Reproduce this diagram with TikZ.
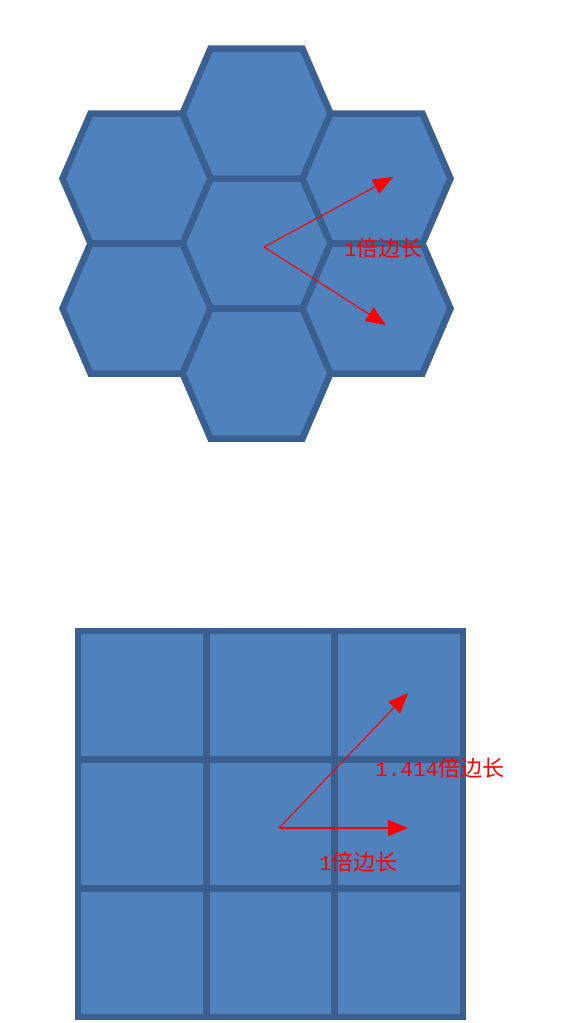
\documentclass[tikz,border=0pt]{standalone}
\usepackage{fontspec}
\newfontfamily\cjk{Noto Sans CJK SC}
\newfontfamily\digitfont{Liberation Mono}
\usetikzlibrary{arrows.meta}
\definecolor{cellfill}{HTML}{4F81BD}
\definecolor{celledge}{HTML}{3A6092}
\definecolor{arrowred}{HTML}{FF0000}
\newcommand{\dg}[1]{{\digitfont\fontsize{21}{24}\selectfont #1}}
\tikzset{
  cell/.style={fill=cellfill,draw=celledge,line width=6.5pt,line join=miter},
  vec/.style={draw=arrowred,line width=1.1pt,-{Triangle[length=20pt,width=16pt]}},
  lbl/.style={text=arrowred,font=\cjk\fontsize{22}{24}\selectfont,inner sep=0pt},
}
\begin{document}
\begin{tikzpicture}[x=1pt,y=-1pt]
\useasboundingbox (0,0) rectangle (563,1023);
% hexagons (flat top, lattice)
\def\ha{74}\def\hb{46}\def\hh{65}
\foreach \cx/\cy in {256.5/243.5,256.5/113.5,256.5/373.5,136.5/178.5,136.5/308.5,376.5/178.5,376.5/308.5}{
  \draw[cell] (\cx+\ha,\cy) -- (\cx+\hb,\cy+\hh) -- (\cx-\hb,\cy+\hh)
     -- (\cx-\ha,\cy) -- (\cx-\hb,\cy-\hh) -- (\cx+\hb,\cy-\hh) -- cycle;
}
% squares
\foreach \i in {0,1,2}{
  \foreach \j in {0,1,2}{
    \draw[cell] (78+128.33*\i,631+128.67*\j) rectangle ++(128.33,128.67);
  }
}
% hex arrows
\coordinate (h0) at (264,247);
\coordinate (h1) at (393,177);
\coordinate (h2) at (386,325);
\draw[vec] (h0) -- (h1);
\draw[vec] (h0) -- (h2);
\node[lbl,anchor=west] (hl) at (344,248) {\dg{1}倍边长};
% square arrows
\coordinate (s0) at (279,828);
\coordinate (s1) at (408,828);
\coordinate (s2) at (408,693);
\draw[vec] (s0) -- (s1);
\draw[vec] (s0) -- (s2);
\node[lbl,anchor=west] (sl1) at (375,768) {\dg{1.414}倍边长};
\node[lbl,anchor=west] (sl2) at (319,862) {\dg{1}倍边长};
\end{tikzpicture}
\end{document}
